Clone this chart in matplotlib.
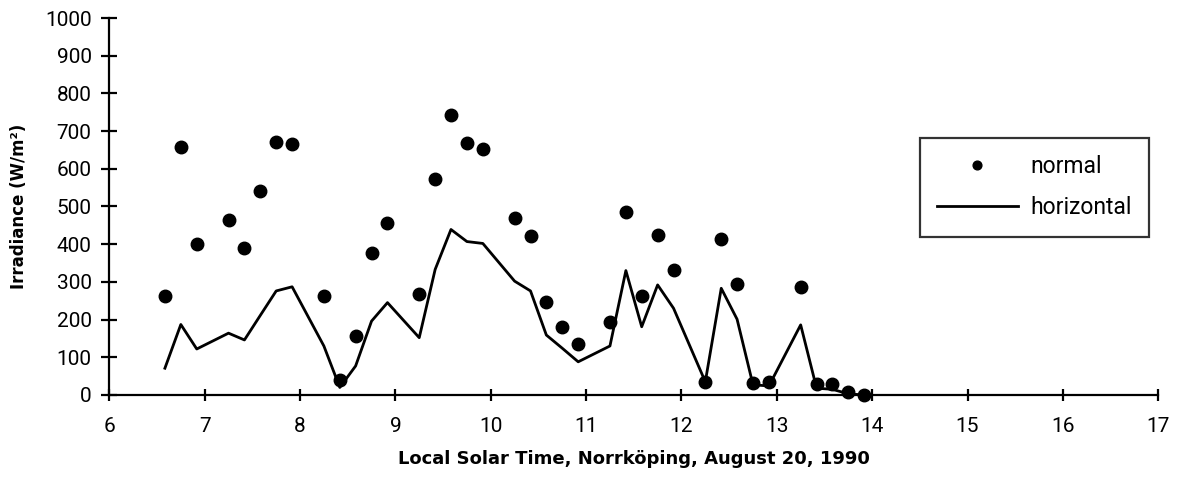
import matplotlib
matplotlib.use("Agg")
import matplotlib.pyplot as plt

# ----------------------------------------------------------------------------------------------------------------------
# dati (ora solare locale, irradianza W/m2)

times = [6.583, 6.75, 6.917, 7.25, 7.417, 7.583, 7.75, 7.917,
         8.25, 8.417, 8.583, 8.75, 8.917,
         9.25, 9.417, 9.583, 9.75, 9.917,
         10.25, 10.417, 10.583, 10.75, 10.917,
         11.25, 11.417, 11.583, 11.75, 11.917,
         12.25, 12.417, 12.583, 12.75, 12.917,
         13.25, 13.417, 13.583, 13.75, 13.917]

normal = [263, 658, 401, 464, 390, 542, 670, 666,
          263, 40, 156, 377, 457,
          268, 573, 742, 668, 652,
          470, 423, 246, 181, 134,
          193, 485, 263, 424, 332,
          35, 414, 294, 33, 35,
          287, 28, 29, 7, 0]

horizontal = [71, 187, 122, 164, 146, 211, 276, 287,
              130, 20, 77, 196, 245,
              152, 333, 439, 407, 402,
              302, 276, 159, 124, 88,
              130, 330, 181, 292, 230,
              35, 283, 201, 27, 24,
              186, 18, 15, 3, 0]

x_ticks = list(range(6, 18))
y_ticks = list(range(0, 1001, 100))

# ----------------------------------------------------------------------------------------------------------------------
plt.rcParams['font.family'] = ['Roboto', 'DejaVu Sans']

fig = plt.figure(figsize=(11.83, 4.79), dpi=100)
ax = fig.add_axes([0.0924, 0.1754, 0.8867, 0.787])

ax.plot(times, horizontal, color='black', linewidth=2, label='horizontal', clip_on=False)
ax.plot(times, normal, linestyle='none', marker='o', markersize=9, color='black',
        label='normal', clip_on=False)

ax.set_xlim(6, 17)
ax.set_ylim(0, 1000)
ax.set_xticks(x_ticks)
ax.set_yticks(y_ticks)

for s in ['top', 'right']:
    ax.spines[s].set_visible(False)
for s in ['left', 'bottom']:
    ax.spines[s].set_linewidth(1.6)

ax.tick_params(axis='y', direction='inout', length=11.5, width=1.6, labelsize=15, pad=7)
ax.tick_params(axis='x', direction='inout', length=8, width=1.6, labelsize=15, pad=12)

ax.set_xlabel('Local Solar Time, Norrköping, August 20, 1990', fontsize=13, fontweight='bold',
              family='DejaVu Sans', labelpad=10)
ax.set_ylabel('Irradiance (W/m²)', fontsize=12, fontweight='bold', family='DejaVu Sans', labelpad=12)

handles, labels = ax.get_legend_handles_labels()
leg = ax.legend(handles[::-1], labels[::-1], loc='upper left', bbox_to_anchor=(0.773, 0.682),
                fontsize=16.5, frameon=True, fancybox=False, handlelength=3.5, markerscale=0.7,
                handletextpad=0.57, labelspacing=0.8, borderpad=0.75, borderaxespad=0)
leg.get_frame().set_edgecolor('black')
leg.get_frame().set_linewidth(1.6)

fig.savefig('out.png', dpi=100)
